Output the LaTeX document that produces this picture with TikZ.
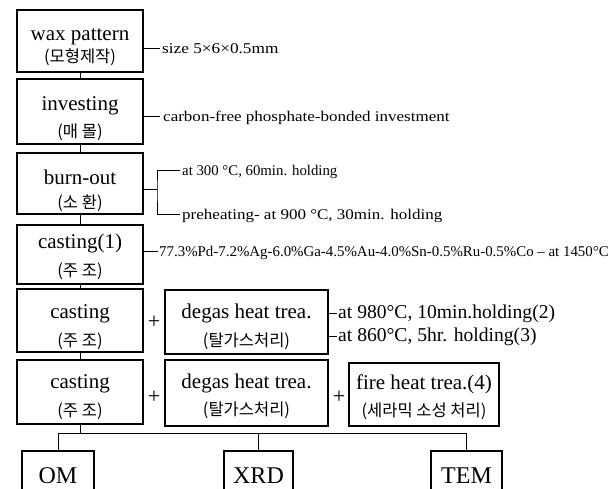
\documentclass[tikz,border=0pt]{standalone}
\usepackage{fontspec}
\setmainfont{Liberation Serif}
\newfontfamily\kr{Noto Sans CJK KR}
\newfontfamily\widefont[FakeStretch=1.15]{Liberation Serif}
\usetikzlibrary{fit}
\tikzset{
  boxnode/.style={draw, line width=1.3pt, inner sep=0pt},
  en/.style={font=\fontsize{21}{21}\selectfont, inner sep=0pt, anchor=base},
  ko/.style={font=\kr\fontsize{16.5}{16.5}\selectfont, inner sep=0pt, anchor=base},
  big/.style={font=\fontsize{24}{24}\selectfont, inner sep=0pt, anchor=base},
  lab/.style={font=\widefont\fontsize{15}{15}\selectfont, inner sep=0pt, anchor=base west},
  labbig/.style={font=\fontsize{19.6}{20}\selectfont, inner sep=0pt, anchor=base west},
  plus/.style={font=\fontsize{22}{22}\selectfont, inner sep=0pt},
  conn/.style={line width=0.9pt}
}
\begin{document}
\begin{tikzpicture}[x=1pt,y=-1pt]
\useasboundingbox (0,0) rectangle (616,488);
\clip (0,0) rectangle (616,488);
\fill[white] (0,0) rectangle (616,488);
% column 1 boxes
\node[boxnode, fit={(17,10) (143,72)}] (b1) {};
\node[boxnode, fit={(17,79) (143,144)}] (b2) {};
\node[boxnode, fit={(17,153) (143,214)}] (b3) {};
\node[boxnode, fit={(17,225) (143,284)}] (b4) {};
\node[boxnode, fit={(17,289) (143,352)}] (b5) {};
\node[boxnode, fit={(17,360) (143,424)}] (b6) {};
\node[boxnode, fit={(165,290) (328,354)}] (d5) {};
\node[boxnode, fit={(165,360) (328,426)}] (d6) {};
\node[boxnode, fit={(349,363) (499,426)}] (f6) {};
\node[boxnode, fit={(22,451) (94,496)}] (om) {};
\node[boxnode, fit={(224,451) (293,496)}] (xrd) {};
\node[boxnode, fit={(431,451) (502,496)}] (tem) {};
% box texts
\node[en] (b1e) at (80,40) {wax pattern};
\node[ko] (b1k) at (80,62) {(모형제작)};
\node[en] (b2e) at (80,110) {investing};
\node[ko] (b2k) at (80,137) {(매 몰)};
\node[en] (b3e) at (80,184) {burn-out};
\node[ko] (b3k) at (80,208) {(소 환)};
\node[en] (b4e) at (80,248) {casting(1)};
\node[ko] (b4k) at (80,276) {(주 조)};
\node[en] (b5e) at (80,318) {casting};
\node[ko] (b5k) at (80,346) {(주 조)};
\node[en] (b6e) at (80,388) {casting};
\node[ko] (b6k) at (80,416) {(주 조)};
\node[en] (d5e) at (246.5,318) {degas heat trea.};
\node[ko] (d5k) at (246.5,346) {(탈가스처리)};
\node[en] (d6e) at (246.5,388) {degas heat trea.};
\node[ko] (d6k) at (246.5,415) {(탈가스처리)};
\node[en] (f6e) at (424,389) {fire heat trea.(4)};
\node[ko] (f6k) at (424,416) {(세라믹 소성 처리)};
\node[big] (ome) at (58,483) {OM};
\node[big] (xrde) at (258.5,483) {XRD};
\node[big] (teme) at (466.5,483) {TEM};
% plus signs
\node[plus] (p5) at (154,322) {+};
\node[plus] (p6a) at (154,397) {+};
\node[plus] (p6b) at (339,397) {+};
% vertical flow connectors
\draw[conn] (b1.south) -- (b2.north);
\draw[conn] (b2.south) -- (b3.north);
\draw[conn] (b3.south) -- (b4.north);
\draw[conn] (b4.south) -- (b5.north);
\draw[conn] (b5.south) -- (b6.north);
% tree
\coordinate (j) at (80,433);
\draw[conn] (b6.south) -- (j);
\draw[conn] (om.north) -- (om.north |- j) -- (tem.north |- j) -- (tem.north);
\draw[conn] (xrd.north) -- (xrd.north |- j);
% labels
\coordinate (k1) at (160,48);
\node[lab] (l1) at (162,53) {size 5×6×0.5mm};
\draw[conn] (b1.east |- k1) -- (k1);
\coordinate (k2) at (160,116);
\node[lab, font=\widefont\fontsize{14.8}{15}\selectfont] (l2) at (163,121) {carbon-free phosphate-bonded investment};
\draw[conn] (b2.east |- k2) -- (k2);
\coordinate (k3) at (157,189);
\coordinate (k3a) at (180,170);
\coordinate (k3b) at (180,214);
\node[lab, font=\fontsize{14.8}{15}\selectfont] (l3a) at (182,175) {at 300 °C, 60min. holding};
\node[lab, font=\widefont\fontsize{14.8}{15}\selectfont] (l3b) at (182,219) {preheating- at 900 °C, 30min. holding};
\draw[conn] (b3.east |- k3) -- (k3);
\draw[conn] (k3a) -| (k3) |- (k3b);
\coordinate (k4) at (158,251);
\node[lab, font=\fontsize{14.9}{15}\selectfont] (l4) at (159,256) {77.3\%Pd-7.2\%Ag-6.0\%Ga-4.5\%Au-4.0\%Sn-0.5\%Ru-0.5\%Co -- at 1450°C};
\draw[conn] (b4.east |- k4) -- (k4);
\coordinate (k5a) at (337,313);
\coordinate (k5b) at (337,336);
\node[labbig] (l5a) at (338,318) {at 980°C, 10min.holding(2)};
\node[labbig] (l5b) at (338,341) {at 860°C, 5hr. holding(3)};
\draw[conn] (d5.east |- k5a) -- (k5a);
\draw[conn] (d5.east |- k5b) -- (k5b);
\end{tikzpicture}
\end{document}
